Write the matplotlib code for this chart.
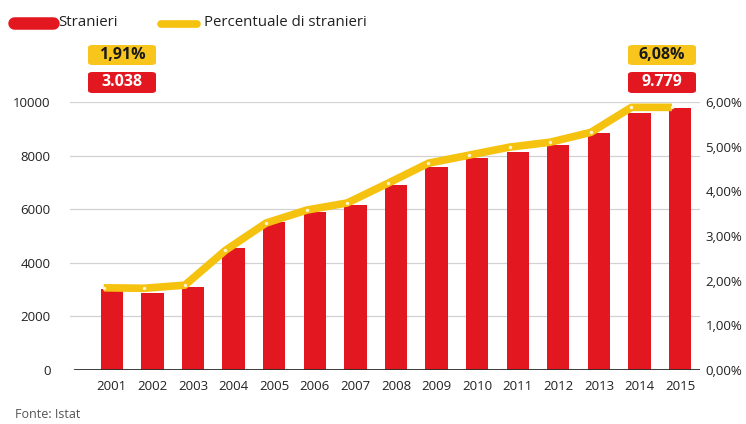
import matplotlib.pyplot as plt
from matplotlib.patches import FancyBboxPatch
from matplotlib.lines import Line2D
from matplotlib.ticker import FuncFormatter

plt.rcParams['font.family'] = ['Open Sans', 'DejaVu Sans']

# Data
years = [2001, 2002, 2003, 2004, 2005, 2006, 2007, 2008,
         2009, 2010, 2011, 2012, 2013, 2014, 2015]
stranieri = [3038, 2870, 3100, 4550, 5520, 5900, 6160, 6900,
             7580, 7910, 8140, 8400, 8840, 9590, 9779]
percentuale = [1.84, 1.83, 1.90, 2.68, 3.29, 3.58, 3.74, 4.18,
               4.63, 4.81, 4.99, 5.10, 5.32, 5.88, 5.88]
highlight_pct = [1.91, 6.08]     # first and last year, as labelled
highlight_num = [3038, 9779]

RED = '#e3171f'
YELLOW = '#f5c20f'

fig = plt.figure(figsize=(7.46, 4.24), dpi=100)
ax = fig.add_axes([70 / 746, 54 / 424, 630 / 746, 268 / 424])

x = list(range(len(years)))
ax.bar(x, stranieri, width=0.55, color=RED, zorder=2)
ax.set_xlim(-1.03, 14.49)
ax.set_ylim(0, 10000)
ax.set_yticks([0, 2000, 4000, 6000, 8000, 10000])
ax.set_xticks(x)
ax.set_xticklabels([str(y) for y in years])
ax.grid(axis='y', color='#d2d2d2', lw=0.9, zorder=0)
ax.axhline(0, xmin=0.008, color='#2b2b2b', lw=2, zorder=3)
for s in ax.spines.values():
    s.set_visible(False)
ax.tick_params(axis='both', length=0, labelsize=9.5, colors='#222222')
ax.tick_params(axis='y', pad=14)
ax.tick_params(axis='x', pad=7)

ax2 = ax.twinx()
ax2.set_ylim(0, 6)
ax2.set_yticks(range(7))
ax2.yaxis.set_major_formatter(FuncFormatter(lambda v, p: f"{v:.2f}%".replace('.', ',')))
for s in ax2.spines.values():
    s.set_visible(False)
ax2.tick_params(axis='y', length=0, labelsize=9.5, colors='#222222', pad=4)
xl = [i - 0.2 for i in x]
ax2.plot(xl, percentuale, color=YELLOW, lw=5.5, solid_capstyle='butt',
         solid_joinstyle='round', zorder=4, clip_on=False)
ax2.plot(xl, percentuale, ls='none', marker='o', ms=2.5, mfc='#fff6d0',
         mec='none', zorder=5, clip_on=False)

# legend
fig.add_artist(Line2D([14 / 746, 53 / 746], [1 - 23 / 424] * 2, color=RED,
                      lw=9, solid_capstyle='round'))
fig.text(58 / 746, 1 - 23 / 424, 'Stranieri', fontsize=10.8, va='center', color='#222222')
fig.add_artist(Line2D([161 / 746, 197 / 746], [1 - 24 / 424] * 2, color=YELLOW,
                      lw=5.5, solid_capstyle='round'))
fig.text(204 / 746, 1 - 23 / 424, 'Percentuale di stranieri', fontsize=10.8,
         va='center', color='#222222')

# highlight boxes
def box(x0, y0, w, h, color, text, tcolor):
    fig.add_artist(FancyBboxPatch((x0 / 746, 1 - (y0 + h) / 424), w / 746, h / 424,
                                  boxstyle='round,pad=0,rounding_size=0.006',
                                  transform=fig.transFigure, fc=color, ec='none'))
    fig.text((x0 + w / 2) / 746, 1 - (y0 + h / 2) / 424, text, fontsize=11.5,
             fontweight='bold', color=tcolor, ha='center', va='center')

for bx, p, n in zip([88, 628], highlight_pct, highlight_num):
    box(bx, 45, 68, 20, '#f8c51c', f"{p:.2f}%".replace('.', ','), '#1a1a1a')
    box(bx, 72, 68, 21, RED, f"{n:,}".replace(',', '.'), 'white')

fig.text(15 / 746, 1 - 408 / 424, 'Fonte: Istat', fontsize=9, color='#555555', va='top')

fig.savefig('out.png', dpi=100)
